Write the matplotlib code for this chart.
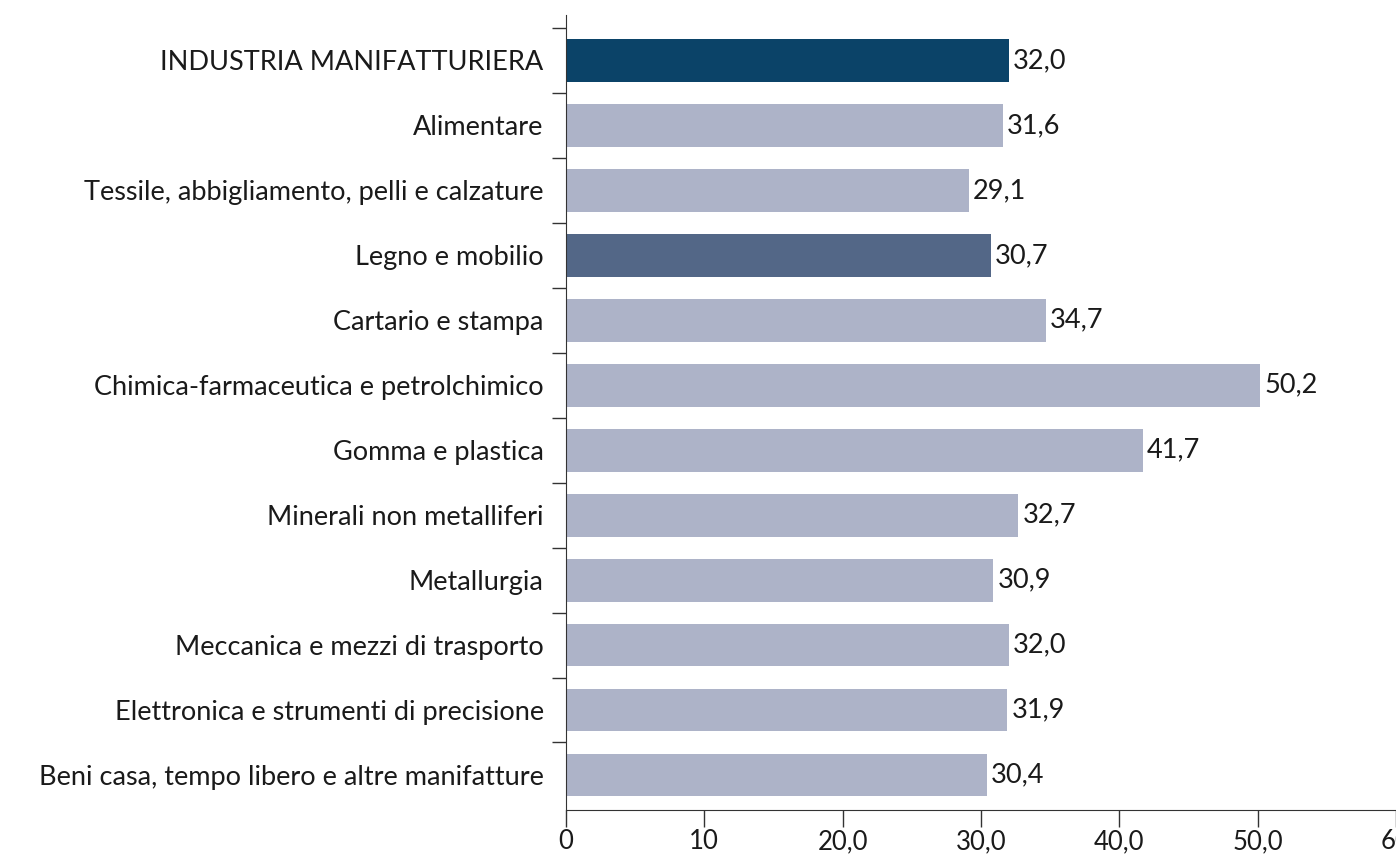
import matplotlib.pyplot as plt

# Data
categories = [
    "INDUSTRIA MANIFATTURIERA",
    "Alimentare",
    "Tessile, abbigliamento, pelli e calzature",
    "Legno e mobilio",
    "Cartario e stampa",
    "Chimica-farmaceutica e petrolchimico",
    "Gomma e plastica",
    "Minerali non metalliferi",
    "Metallurgia",
    "Meccanica e mezzi di trasporto",
    "Elettronica e strumenti di precisione",
    "Beni casa, tempo libero e altre manifatture",
]
values = [32.0, 31.6, 29.1, 30.7, 34.7, 50.2, 41.7, 32.7, 30.9, 32.0, 31.9, 30.4]
x_ticks = [0, 10, 20, 30, 40, 50, 60]
x_tick_labels = ["0", "10", "20,0", "30,0", "40,0", "50,0", "60"]

# Colours
DARK = "#0b4368"
MID = "#536787"
LIGHT = "#adb3c8"
TXT = "#1a1a1a"
colors = [DARK, LIGHT, LIGHT, MID] + [LIGHT] * 8

plt.rcParams['font.family'] = ['Lato', 'DejaVu Sans']
FS = 19.5

fig = plt.figure(figsize=(13.96, 8.57), dpi=100)
ax = fig.add_axes([0.4054, 0.0548, 0.5946, 0.9277])

ypos = list(range(len(categories)))
ax.barh(ypos, values, height=0.66, color=colors)

# value labels with decimal comma
for y, v in zip(ypos, values):
    ax.text(v + 0.3, y, f"{v:.1f}".replace(".", ","), va="center", ha="left",
            fontsize=FS, color=TXT)

ax.set_xlim(0, 60)
ax.set_ylim(len(categories) - 1 + 0.54, -0.7)

ax.set_yticks(ypos)
ax.set_yticklabels(categories, fontsize=FS, color=TXT)
ax.tick_params(axis="y", which="major", length=0, pad=16)
ax.set_yticks([i + 0.5 for i in range(-1, len(categories) - 1)], minor=True)
ax.tick_params(axis="y", which="minor", length=10, width=1.0, color="#333333")

ax.set_xticks(x_ticks)
ax.set_xticklabels(x_tick_labels, fontsize=18.5, color=TXT)
ax.tick_params(axis="x", length=12, width=1.0, color="#333333", pad=2)

for s in ["top", "right"]:
    ax.spines[s].set_visible(False)
ax.spines["left"].set_color("#333333")
ax.spines["bottom"].set_color("#333333")

fig.savefig("out.png", dpi=100)
